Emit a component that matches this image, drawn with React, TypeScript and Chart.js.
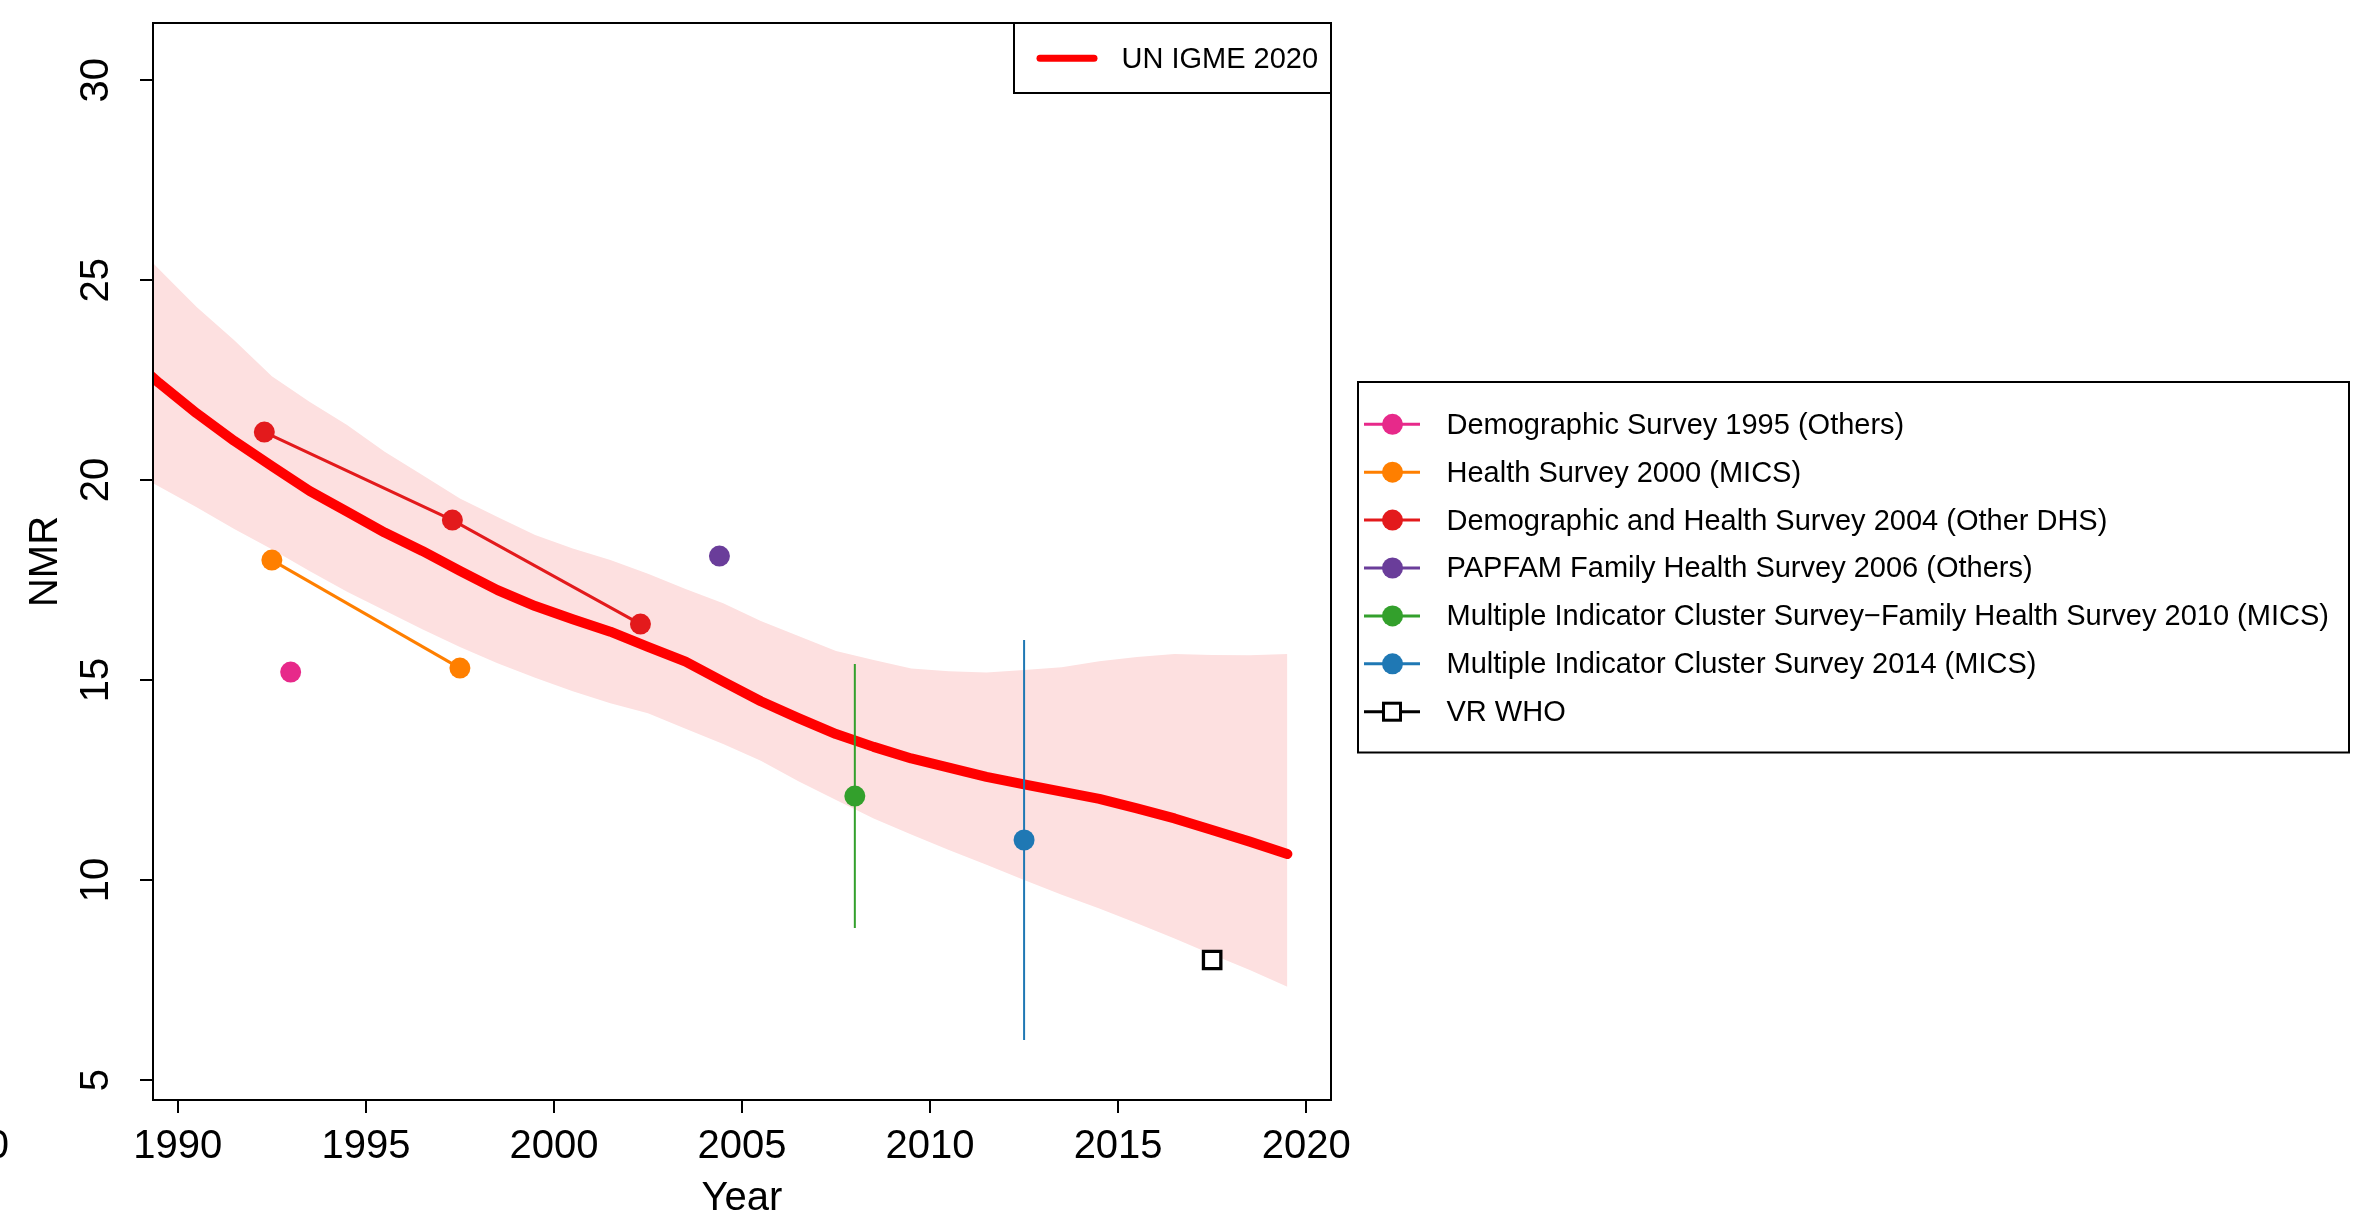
import React, { useEffect, useRef } from 'react';
import { Chart, registerables } from 'chart.js';

Chart.register(...registerables);

const FONT = '"Liberation Sans", Arial, Helvetica, sans-serif';

// ---------- data ----------
const estimateYears = [
  1988.5, 1989.5, 1990.5, 1991.5, 1992.5, 1993.5, 1994.5, 1995.5, 1996.5, 1997.5,
  1998.5, 1999.5, 2000.5, 2001.5, 2002.5, 2003.5, 2004.5, 2005.5, 2006.5, 2007.5,
  2008.5, 2009.5, 2010.5, 2011.5, 2012.5, 2013.5, 2014.5, 2015.5, 2016.5, 2017.5,
  2018.5, 2019.5,
];
const estimate = [
  23.26, 22.43, 21.67, 20.98, 20.35, 19.73, 19.21, 18.69, 18.23, 17.73,
  17.25, 16.85, 16.52, 16.21, 15.83, 15.46, 14.96, 14.47, 14.05, 13.65,
  13.33, 13.04, 12.81, 12.58, 12.39, 12.21, 12.03, 11.79, 11.54, 11.25,
  10.96, 10.65,
];
const upperBound = [
  26.26, 25.27, 24.33, 23.5, 22.6, 21.96, 21.38, 20.71, 20.13, 19.54,
  19.08, 18.63, 18.29, 18.0, 17.66, 17.28, 16.92, 16.48, 16.1, 15.73,
  15.5, 15.29, 15.22, 15.19, 15.25, 15.32, 15.47, 15.58, 15.65, 15.63,
  15.62, 15.65,
];
const lowerBound = [
  20.36, 19.84, 19.32, 18.78, 18.27, 17.73, 17.21, 16.74, 16.27, 15.83,
  15.42, 15.06, 14.72, 14.42, 14.17, 13.78, 13.4, 12.98, 12.47, 12.0,
  11.54, 11.14, 10.75, 10.38, 10.0, 9.63, 9.29, 8.92, 8.54, 8.14,
  7.75, 7.33,
];

const demo1995Years = [1993.0];
const demo1995Values = [15.2];
const health2000Years = [1992.5, 1997.5];
const health2000Values = [18.0, 15.3];
const dhs2004Years = [1992.3, 1997.3, 2002.3];
const dhs2004Values = [21.2, 19.0, 16.4];
const papfam2006Years = [2004.4];
const papfam2006Values = [18.1];
const mics2010Years = [2008.0];
const mics2010Values = [12.1];
const mics2010Lower = [8.8];
const mics2010Upper = [15.4];
const mics2014Years = [2012.5];
const mics2014Values = [11.0];
const mics2014Lower = [6.0];
const mics2014Upper = [16.0];
const vrWhoYears = [2017.5];
const vrWhoValues = [8.0];

const xTicks = [1990, 1995, 2000, 2005, 2010, 2015, 2020];
const yTicks = [5, 10, 15, 20, 25, 30];

const estimateLabel = 'UN IGME 2020';
const surveyLabels = [
  'Demographic Survey 1995 (Others)',
  'Health Survey 2000 (MICS)',
  'Demographic and Health Survey 2004 (Other DHS)',
  'PAPFAM Family Health Survey 2006 (Others)',
  'Multiple Indicator Cluster Survey\u2212Family Health Survey 2010 (MICS)',
  'Multiple Indicator Cluster Survey 2014 (MICS)',
  'VR WHO',
];
const surveyColors = ['#E7298A', '#FF7F00', '#E31A1C', '#6A3D9A', '#33A02C', '#1F78B4', '#000000'];
const xTitle = 'Year';
const yTitle = 'NMR';
const strayLabel = '2020';

// ---------- styles ----------
const ESTIMATE_COLOR = '#FF0000';
const BAND_COLOR = '#FDE0E0';
const POINT_R = 10.5;

const pts = (xs: number[], ys: number[]) => xs.map((x, i) => ({ x, y: ys[i] }));
const bar = (xs: number[], lo: number[], hi: number[]) => [
  { x: xs[0], y: lo[0] },
  { x: xs[0], y: hi[0] },
];

const decorPlugin = {
  id: 'decor',
  afterDraw(chart: any) {
    const ctx = chart.ctx as CanvasRenderingContext2D;
    const a = chart.chartArea;
    ctx.save();
    // plot box
    ctx.strokeStyle = '#000';
    ctx.lineWidth = 2;
    ctx.strokeRect(a.left, a.top, a.right - a.left, a.bottom - a.top);

    // stray clipped label at bottom-left
    ctx.fillStyle = '#000';
    ctx.font = `40px ${FONT}`;
    ctx.textAlign = 'right';
    ctx.textBaseline = 'middle';
    ctx.fillText(strayLabel, 9, 1147);

    // legend 1 (estimate)
    const l1Left = 1014;
    ctx.lineWidth = 2;
    ctx.strokeStyle = '#000';
    ctx.strokeRect(l1Left, a.top, a.right - l1Left, 70);
    ctx.beginPath();
    ctx.lineCap = 'round';
    ctx.strokeStyle = ESTIMATE_COLOR;
    ctx.lineWidth = 7;
    ctx.moveTo(1040, 58.3);
    ctx.lineTo(1094, 58.3);
    ctx.stroke();
    ctx.font = `29px ${FONT}`;
    ctx.textAlign = 'left';
    ctx.textBaseline = 'middle';
    ctx.fillStyle = '#000';
    ctx.fillText(estimateLabel, 1121.5, 59.7);

    // legend 2 (surveys)
    ctx.lineCap = 'butt';
    ctx.lineWidth = 2;
    ctx.strokeStyle = '#000';
    ctx.strokeRect(1358, 382, 991, 370.5);
    const row0 = 424.3;
    const step = 47.9;
    surveyLabels.forEach((label, i) => {
      const y = row0 + i * step;
      const c = surveyColors[i];
      ctx.beginPath();
      ctx.strokeStyle = c;
      ctx.lineWidth = 3;
      ctx.moveTo(1364, y);
      ctx.lineTo(1420, y);
      ctx.stroke();
      if (i === surveyLabels.length - 1) {
        ctx.fillStyle = '#fff';
        ctx.fillRect(1392 - 8.5, y - 8.5, 17, 17);
        ctx.strokeStyle = '#000';
        ctx.lineWidth = 3;
        ctx.strokeRect(1392 - 8.5, y - 8.5, 17, 17);
      } else {
        ctx.beginPath();
        ctx.fillStyle = c;
        ctx.arc(1392.5, y, POINT_R, 0, Math.PI * 2);
        ctx.fill();
      }
      ctx.fillStyle = '#000';
      ctx.fillText(label, 1446.5, y + 1.4);
    });
    ctx.restore();
  },
};

export default function App() {
  const ref = useRef<HTMLCanvasElement | null>(null);

  useEffect(() => {
    const canvas = ref.current;
    if (!canvas) return;
    Chart.defaults.font.family = FONT;
    Chart.defaults.color = '#000';

    const pointDs = (xs: number[], ys: number[], color: string, showLine: boolean) => ({
      data: pts(xs, ys),
      showLine,
      borderColor: color,
      borderWidth: 3,
      pointRadius: POINT_R,
      pointBackgroundColor: color,
      pointBorderWidth: 0,
      pointBorderColor: color,
      fill: false,
      tension: 0,
      order: 0,
    });
    const barDs = (xs: number[], lo: number[], hi: number[], color: string) => ({
      data: bar(xs, lo, hi),
      showLine: true,
      borderColor: color,
      borderWidth: 2,
      pointRadius: 0,
      fill: false,
      order: 20,
    });

    const chart = new Chart(canvas, {
      type: 'line',
      data: {
        datasets: [
          {
            data: pts(estimateYears, upperBound),
            borderColor: 'rgba(0,0,0,0)',
            borderWidth: 0,
            pointRadius: 0,
            fill: '+1',
            backgroundColor: BAND_COLOR,
            tension: 0,
            order: 100,
            clip: 0,
          },
          {
            data: pts(estimateYears, lowerBound),
            borderColor: 'rgba(0,0,0,0)',
            borderWidth: 0,
            pointRadius: 0,
            fill: false,
            tension: 0,
            order: 100,
            clip: 0,
          },
          {
            data: pts(estimateYears, estimate),
            borderColor: ESTIMATE_COLOR,
            borderWidth: 10,
            borderCapStyle: 'round',
            borderJoinStyle: 'round',
            pointRadius: 0,
            fill: false,
            tension: 0,
            order: 50,
            clip: 0,
          },
          barDs(mics2010Years, mics2010Lower, mics2010Upper, surveyColors[4]),
          barDs(mics2014Years, mics2014Lower, mics2014Upper, surveyColors[5]),
          pointDs(demo1995Years, demo1995Values, surveyColors[0], false),
          pointDs(health2000Years, health2000Values, surveyColors[1], true),
          pointDs(dhs2004Years, dhs2004Values, surveyColors[2], true),
          pointDs(papfam2006Years, papfam2006Values, surveyColors[3], false),
          pointDs(mics2010Years, mics2010Values, surveyColors[4], false),
          pointDs(mics2014Years, mics2014Values, surveyColors[5], false),
          {
            data: pts(vrWhoYears, vrWhoValues),
            showLine: false,
            pointStyle: 'rect',
            pointRadius: 12.3,
            pointBorderWidth: 3.3,
            pointBorderColor: '#000',
            pointBackgroundColor: '#fff',
            order: 0,
          },
        ] as any,
      },
      options: {
        animation: false,
        responsive: false,
        maintainAspectRatio: false,
        devicePixelRatio: 1,
        events: [],
        layout: { padding: { top: 23, right: 1028, bottom: 0, left: 0 } },
        plugins: {
          legend: { display: false },
          tooltip: { enabled: false },
        },
        scales: {
          x: {
            type: 'linear',
            min: 1989.34,
            max: 2020.66,
            afterBuildTicks: (s: any) => {
              s.ticks = xTicks.map((v) => ({ value: v }));
            },
            afterFit: (s: any) => {
              s.height = 117;
              s.paddingLeft = 0;
              s.paddingRight = 0;
            },
            ticks: {
              font: { size: 40 },
              color: '#000',
              padding: 10,
              maxRotation: 0,
              minRotation: 0,
              autoSkip: false,
              callback: (v: any) => String(v),
            },
            grid: {
              display: true,
              drawOnChartArea: false,
              drawTicks: true,
              tickLength: 13,
              color: '#000',
              lineWidth: 2,
            },
            border: { display: false },
            title: {
              display: true,
              text: xTitle,
              font: { size: 40, lineHeight: 0.9 },
              color: '#000',
              padding: { top: 0, bottom: 0 },
            },
          },
          y: {
            type: 'linear',
            min: 4.5,
            max: 31.43,
            afterBuildTicks: (s: any) => {
              s.ticks = yTicks.map((v) => ({ value: v }));
            },
            afterFit: (s: any) => {
              s.width = 153;
              s.paddingTop = 0;
              s.paddingBottom = 0;
            },
            ticks: {
              font: { size: 40 },
              color: '#000',
              padding: 21,
              minRotation: 90,
              maxRotation: 90,
              crossAlign: 'center',
              autoSkip: false,
              callback: (v: any) => String(v),
            },
            grid: {
              display: true,
              drawOnChartArea: false,
              drawTicks: true,
              tickLength: 13,
              color: '#000',
              lineWidth: 2,
            },
            border: { display: false },
            title: {
              display: true,
              text: yTitle,
              font: { size: 40, lineHeight: 1.1 },
              color: '#000',
              padding: { top: 24, bottom: 0 },
            },
          },
        },
      } as any,
      plugins: [decorPlugin],
    });
    return () => chart.destroy();
  }, []);

  return (
    <div style={{ position: 'fixed', left: 0, top: 0, width: 2359, height: 1217, background: '#fff' }}>
      <canvas ref={ref} width={2359} height={1217} style={{ display: 'block', width: 2359, height: 1217 }} />
    </div>
  );
}
